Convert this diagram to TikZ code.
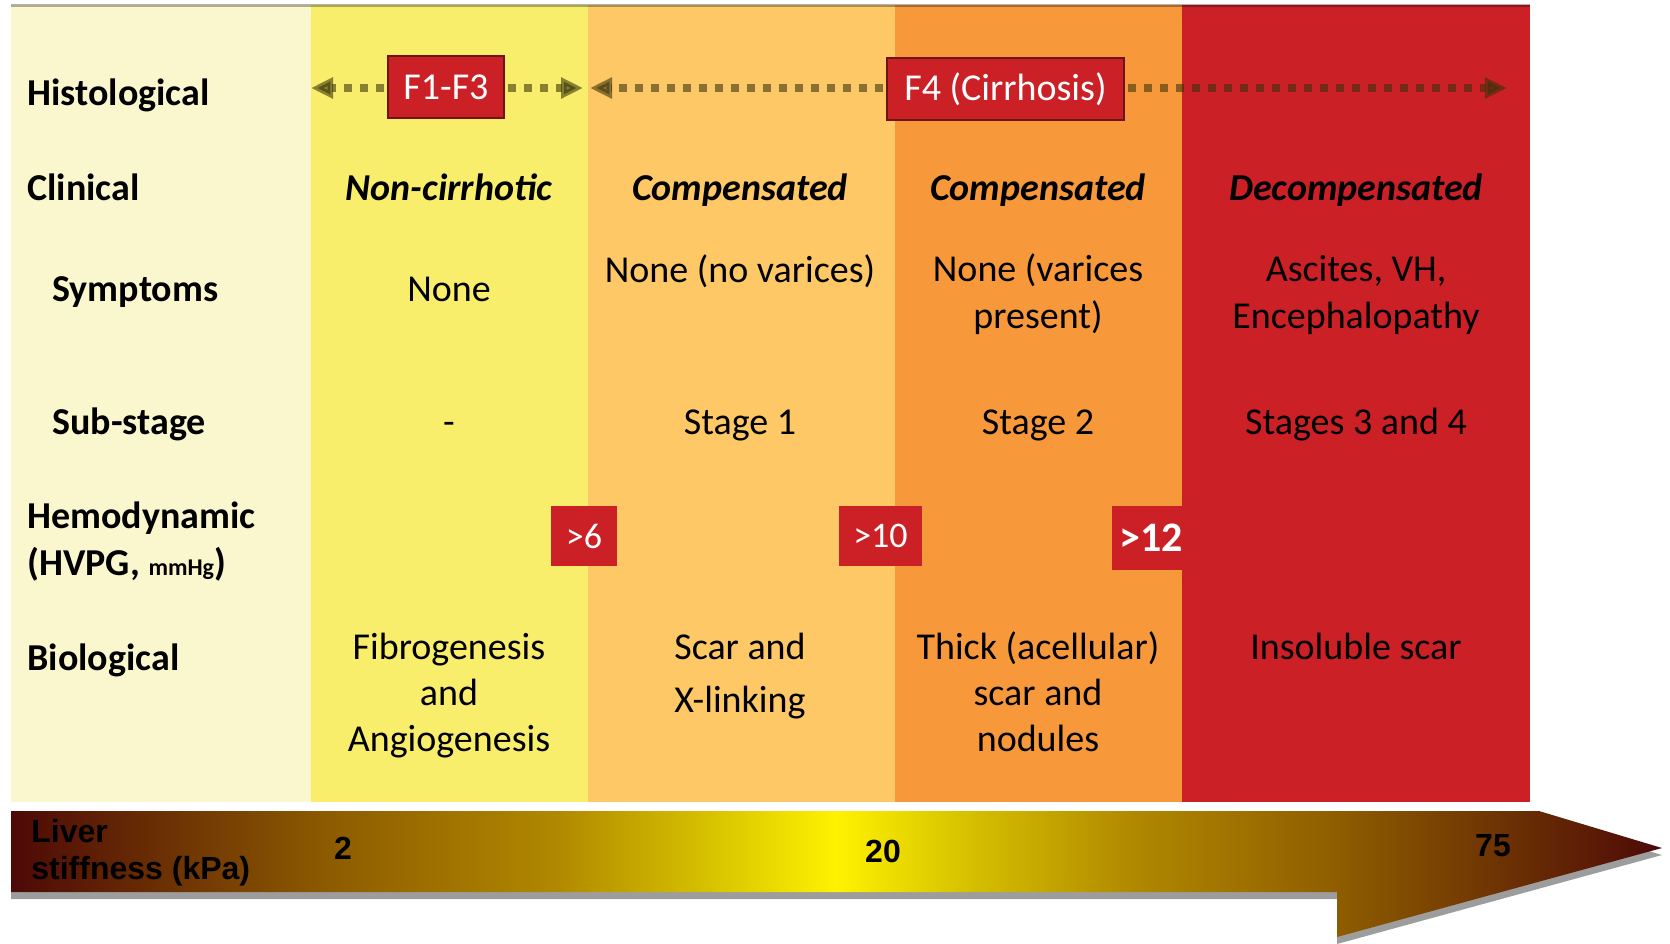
\documentclass[tikz,border=0pt]{standalone}
\usepackage{fontspec}
\setmainfont{Carlito}
\newfontfamily\arialfont{Liberation Sans}
\usetikzlibrary{arrows.meta,positioning}

\definecolor{creamcol}{HTML}{FAF6CE}
\definecolor{yellowcol}{HTML}{F8EE6C}
\definecolor{lorangecol}{HTML}{FDC865}
\definecolor{orangecol}{HTML}{F7993B}
\definecolor{redcol}{HTML}{CC2027}
\definecolor{boxborder}{HTML}{6E1414}
\definecolor{dotcol}{HTML}{383208}
\definecolor{stiffshadow}{HTML}{9D9D9D}
\definecolor{stiffdark}{HTML}{4D0907}
\definecolor{stiffbrown}{HTML}{8F5E00}
\definecolor{stiffochre}{HTML}{B08800}
\definecolor{stiffgold}{HTML}{D6C000}
\definecolor{stiffyellow}{HTML}{FFF200}

\pgfdeclarehorizontalshading{stiffshade}{100bp}{color(0bp)=(stiffdark); color(25bp)=(stiffdark);
  color(35bp)=(stiffbrown); color(41.5bp)=(stiffochre); color(46bp)=(stiffgold);
  color(50bp)=(stiffyellow); color(54bp)=(stiffgold); color(59bp)=(stiffochre);
  color(65bp)=(stiffbrown); color(75bp)=(stiffdark); color(100bp)=(stiffdark)}

\begin{document}
\begin{tikzpicture}[x=0.5pt,y=-0.5pt,
    rowlabel/.style={anchor=base west,inner sep=0pt,align=left,font=\bfseries\fontsize{19}{23.5}\selectfont},
    celltext/.style={anchor=base,inner sep=0pt,align=center,font=\fontsize{19}{23.5}\selectfont},
    clintext/.style={celltext,font=\bfseries\itshape\fontsize{19}{23.5}\selectfont},
    histbox/.style={fill=redcol,draw=boxborder,line width=0.8pt,text=white,inner sep=0pt,minimum height=31pt,font=\fontsize{19}{23}\selectfont},
    hemobox/.style={fill=redcol,text=white,inner sep=0pt,minimum height=30pt,font=\fontsize{18}{22}\selectfont},
    dotarrow/.style={draw=dotcol,opacity=.58,line width=4pt,dash pattern=on 4pt off 4pt,-{Triangle[length=11pt,width=10pt]},shorten <=1.5pt},
    stifftext/.style={inner sep=0pt,font=\arialfont\bfseries\fontsize{16}{18.5}\selectfont}]
  \useasboundingbox (0,0) rectangle (1670,943);

  % stage columns
  \fill[creamcol] (11,5) rectangle (311,802);
  \fill[yellowcol] (311,5) rectangle (588,802);
  \fill[lorangecol] (588,5) rectangle (895,802);
  \fill[orangecol] (895,5) rectangle (1182,802);
  \fill[redcol] (1182,5) rectangle (1530,802);
  \draw[black,opacity=.3,line width=1.5pt] (11,5) -- (1530,5);

  % liver stiffness arrow
  \fill[stiffshadow] (11,818) -- (1539,818) -- (1662,855) -- (1337,944) -- (1337,899) -- (11,899) -- cycle;
  \shade[shading=stiffshade] (11,811) -- (1539,811) -- (1662,848) -- (1337,937) -- (1337,892) -- (11,892) -- cycle;

  % histological
  \node[rowlabel] (histlab) at (27,105) {Histological};
  \node[histbox,minimum width=58pt] (fonethree) at (446,87) {F1-F3};
  \node[histbox,minimum width=118.5pt] (ffour) at (1005.5,89) {F4 (Cirrhosis)};
  \coordinate (histA) at (311,88);
  \coordinate (histB) at (583,88);
  \coordinate (histC) at (590,88);
  \coordinate (histD) at (1507,88);
  \draw[dotarrow] (fonethree.west |- histA) -- (histA);
  \draw[dotarrow] (fonethree.east |- histB) -- (histB);
  \draw[dotarrow] (ffour.west |- histC) -- (histC);
  \draw[dotarrow] (ffour.east |- histD) -- (histD);

  % clinical
  \node[rowlabel] (clinlab) at (27,200) {Clinical};
  \node[clintext] (clinA) at (449,200) {Non-cirrhotic};
  \node[clintext] (clinB) at (740,200) {Compensated};
  \node[clintext] (clinC) at (1038,200) {Compensated};
  \node[clintext] (clinD) at (1356,200) {Decompensated};

  % symptoms (multi-line nodes sit on their last baseline)
  \node[rowlabel] (symlab) at (52,301) {Symptoms};
  \node[celltext] (symA) at (449,301) {None};
  \node[celltext] (symB) at (740,282) {None (no varices)};
  \node[celltext] (symC) at (1038,328) {None (varices\\present)};
  \node[celltext] (symD) at (1356,328) {Ascites, VH,\\Encephalopathy};

  % sub-stage
  \node[rowlabel] (sublab) at (52,434) {Sub-stage};
  \node[celltext] (subA) at (449,434) {-};
  \node[celltext] (subB) at (740,434) {Stage 1};
  \node[celltext] (subC) at (1038,434) {Stage 2};
  \node[celltext] (subD) at (1356,434) {Stages 3 and 4};

  % hemodynamic
  \node[rowlabel] (hemolab) at (27,575) {Hemodynamic\\(HVPG, {\fontsize{12}{14}\selectfont mmHg})};
  \node[hemobox,minimum width=33pt] (hvpgA) at (584,536) {>6};
  \node[hemobox,minimum width=41.5pt] (hvpgB) at (880.5,536) {>10};
  \node[hemobox,minimum width=39pt,minimum height=32pt,font=\bfseries\fontsize{21}{24}\selectfont] (hvpgC) at (1151,538) {>12};

  % biological
  \node[rowlabel] (biolab) at (27,670) {Biological};
  \node[celltext,font=\fontsize{19}{23}\selectfont] (bioA) at (449,751) {Fibrogenesis\\and\\Angiogenesis};
  \node[celltext,font=\fontsize{19}{26.5}\selectfont] (bioB) at (740,712) {Scar and\\X-linking};
  \node[celltext,font=\fontsize{19}{23}\selectfont] (bioC) at (1038,751) {Thick (acellular)\\scar and\\nodules};
  \node[celltext] (bioD) at (1356,659) {Insoluble scar};

  % stiffness values
  \node[stifftext,anchor=base west,align=left] (stifflab) at (31,879) {Liver\\stiffness (kPa)};
  \node[stifftext] (stiffA) at (343,848) {2};
  \node[stifftext] (stiffB) at (883,851) {20};
  \node[stifftext] (stiffC) at (1493,846) {75};
\end{tikzpicture}
\end{document}
